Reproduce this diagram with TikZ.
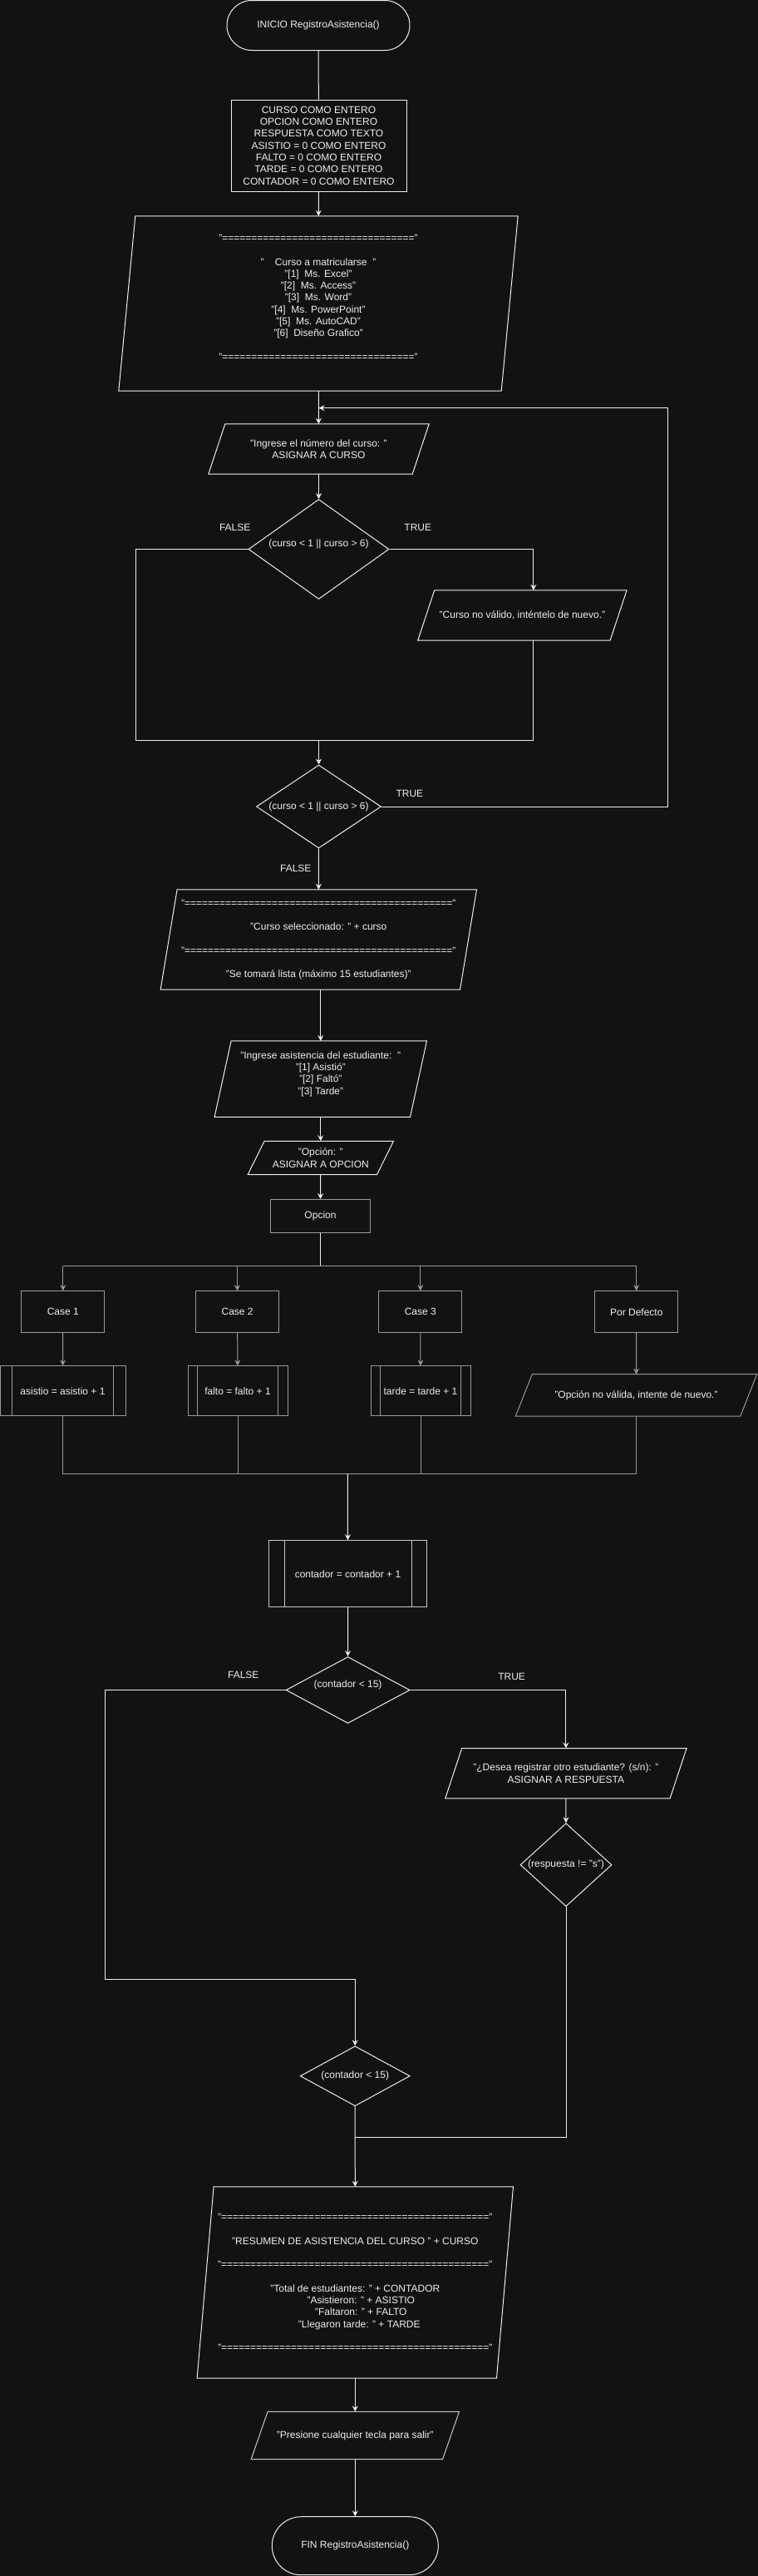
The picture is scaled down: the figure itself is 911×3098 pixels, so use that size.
\documentclass[tikz,border=0pt]{standalone}
\usepackage{fontspec}
\setmainfont{Liberation Sans}
\usepackage{xcolor}
\usepackage{tikz}
\usetikzlibrary{shapes,arrows.meta,positioning}
\tikzset{>={Stealth[length=7pt,width=7pt,inset=2.5pt]}}

\definecolor{fondo}{HTML}{121212}
\definecolor{linea}{HTML}{EEEEEE}
\definecolor{gris}{HTML}{999999}
\definecolor{grisclaro}{HTML}{C8C8C8}

\def\diez{==========}
\newcommand{\sepcorto}{"\diez\diez\diez==="}
\newcommand{\seplargo}{"\diez\diez\diez\diez======"}

\begin{document}
\begin{tikzpicture}[x=1pt, y=-1pt,
                          every node/.style={text=linea, font=\fontsize{12}{14.3}\selectfont, align=center, inner sep=0pt},
                          con/.style={linea, line width=1pt},
                          flecha/.style={con, ->},
                          cong/.style={gris, line width=1pt},
                          flechag/.style={cong, ->},
                          term/.style={draw=linea, line width=1pt, rounded corners=#1, minimum height=2*#1},
                          caja/.style={draw=linea, line width=1pt, rectangle},
                          cajag/.style={draw=gris, line width=1pt, rectangle},
                          decision/.style={diamond, draw=linea, line width=1pt},
                          io/.style 2 args={rectangle, minimum width=#1, append after command={\pgfextra{\edef\ionode{\tikzlastnode}%
                              \draw[#2, line width=1pt] ([xshift=20]\ionode.north west) -- (\ionode.north east) -- ([xshift=-20]\ionode.south east) -- (\ionode.south west) -- cycle;}}},
                          proc/.style 2 args={draw=#2, line width=1pt, rectangle, minimum width=#1, append after command={\pgfextra{\edef\procnode{\tikzlastnode}%
                              \draw[#2, line width=1pt] ([xshift=#1/10]\procnode.north west) -- ([xshift=#1/10]\procnode.south west)
                                                        ([xshift=-#1/10]\procnode.north east) -- ([xshift=-#1/10]\procnode.south east);}}},
                         ]

\useasboundingbox (0,0) rectangle (911,3098);
\fill[fondo] (-6,-6) rectangle (917,3104);

% inicio y datos
\node[term=30, minimum width=220] (inicio) at (383,30.5) {INICIO RegistroAsistencia()};
\node[caja, minimum width=211, minimum height=110] (decl) at (383.5,175) {CURSO COMO ENTERO\\OPCION COMO ENTERO\\RESPUESTA COMO TEXTO\\ASISTIO = 0 COMO ENTERO\\FALTO = 0 COMO ENTERO\\TARDE = 0 COMO ENTERO\\CONTADOR = 0 COMO ENTERO};
\node[io={480}{linea}, minimum height=210] (menu) at (383,365) {\sepcorto\\ \mbox{}\\ "\ \ \ \ Curso a matricularse\ \ "\\ "[1]\ \ Ms. Excel"\\ "[2]\ \ Ms. Access"\\ "[3]\ \ Ms. Word"\\ "[4]\ \ Ms. PowerPoint"\\ "[5]\ \ Ms. AutoCAD"\\ "[6]\ \ Diseño Grafico"\\ \mbox{}\\ \sepcorto\\ \mbox{}};

% lectura del curso
\node[io={265}{linea}, minimum height=60] (ingcurso) at (383.5,540) {"Ingrese el número del curso: "\\ASIGNAR A CURSO};
\node[decision, minimum width=169, minimum height=120, aspect=1.41] (dec1) at (383.5,660.5) {(curso < 1 || curso > 6)\\ \mbox{}};
\node[io={251}{linea}, minimum height=60] (invalido) at (628.4,740) {"Curso no válido, inténtelo de nuevo."};
\node (falso1) at (282.7,634.7) {FALSE};
\node (verdad1) at (502.8,634.7) {TRUE};
\node[decision, minimum width=150, minimum height=100, aspect=1.5] (dec2) at (383.5,970) {(curso < 1 || curso > 6)};
\node (verdad2) at (492.9,954) {TRUE};
\node (falso2) at (355.8,1044) {FALSE};

\node[io={380}{linea}, minimum height=120] (selec) at (383.3,1130) {\seplargo\\ \mbox{}\\ "Curso seleccionado: " + curso\\ \mbox{}\\ \seplargo\\ \mbox{}\\ "Se tomará lista (máximo 15 estudiantes)"};
\node[io={255}{linea}, minimum height=91] (ingasis) at (385.8,1297.6) {"Ingrese asistencia del estudiante:\ \ "\\ "[1] Asistió"\\ "[2] Faltó"\\ "[3] Tarde"\\ \mbox{}};
\node[io={175}{linea}, minimum height=40] (opcin) at (385.8,1392.5) {"Opción: "\\ASIGNAR A OPCION};

% segun opcion
\node[cajag, minimum width=120, minimum height=40] (opcion) at (385.5,1462.5) {Opcion};
\node[cajag, minimum width=100, minimum height=50] (caso1) at (75.8,1577.7) {Case 1};
\node[cajag, minimum width=100, minimum height=50] (caso2) at (285.6,1577.7) {Case 2};
\node[cajag, minimum width=100, minimum height=50] (caso3) at (505.8,1577.7) {Case 3};
\node[cajag, minimum width=100, minimum height=50] (pordef) at (765.8,1577.7) {Por Defecto};
\node[proc={151}{gris}, minimum height=60] (suma1) at (75.5,1672.9) {asistio = asistio + 1};
\node[proc={120}{gris}, minimum height=60] (suma2) at (286,1672.9) {falto = falto + 1};
\node[proc={120}{gris}, minimum height=60] (suma3) at (506,1672.9) {tarde = tarde + 1};
\node[io={290}{gris}, minimum height=50] (pdmsg) at (765.5,1677.9) {"Opción no válida, intente de nuevo."};

\node[proc={190}{grisclaro}, minimum height=80] (contador) at (418.5,1892.7) {contador = contador + 1};
\node[decision, minimum width=149, minimum height=80, aspect=1.86] (dec3) at (418.6,2032.5) {(contador < 15)\\ \mbox{}};
\node (falso3) at (292.8,2014.3) {FALSE};
\node (verdad3) at (615.6,2016.7) {TRUE};
\node[io={290}{linea}, minimum height=60] (desea) at (680.9,2132.7) {"¿Desea registrar otro estudiante? (s/n): "\\ASIGNAR A RESPUESTA};
\node[decision, minimum width=110, minimum height=100, aspect=1.1] (dec5) at (681,2242.7) {(respuesta != "s")};
\node[decision, minimum width=132, minimum height=72, aspect=1.83] (dec4) at (427.2,2496.7) {(contador < 15)};

% resumen y fin
\node[io={380}{linea}, minimum height=230] (resumen) at (427.3,2745) {\seplargo\\ \mbox{}\\ "RESUMEN DE ASISTENCIA DEL CURSO " + CURSO\\ \mbox{}\\ \seplargo\\ \mbox{}\\ "Total de estudiantes: " + CONTADOR\\ \hspace*{14pt}"Asistieron: " + ASISTIO\\ \hspace*{14pt}"Faltaron: " + FALTO\\ \hspace*{10pt}"Llegaron tarde: " + TARDE\\ \mbox{}\\ \seplargo};
\node[io={250}{grisclaro}, minimum height=57] (presione) at (427.3,2929) {"Presione cualquier tecla para salir"};
\node[term=35, minimum width=200] (fin) at (427.3,3061.7) {FIN RegistroAsistencia()};

\coordinate (union0) at (383.5,490.7);
\coordinate (codo2) at (803,490.7);
\coordinate (codo1) at (163.5,890);
\coordinate (union1) at (383.5,890);
\coordinate (bus) at (385.5,1522.7);
\coordinate (union2) at (418.4,1772.7);
\coordinate (codo3) at (126.3,2380);
\coordinate (union3) at (427.2,2380);
\coordinate (union4) at (427.2,2570);

\draw[con] (inicio) -- (decl);
\draw[flecha] (decl) -- (menu);
\draw[flecha] (menu) -- (ingcurso);
\draw[flecha] (ingcurso) -- (dec1);
\draw[flecha] (dec1.east) -| ([xshift=13.5]invalido.north);
\draw[con] (dec1.west) -| (codo1) -- (union1);
\draw[con] ([xshift=13.5]invalido.south) |- (union1);
\draw[flecha] (union1) -- (dec2);
\draw[flecha] (dec2.east) -| (codo2) -- (union0);
\draw[flecha] (dec2) -- (selec);
\draw[flecha] (selec.south -| ingasis.north) -- (ingasis);
\draw[flecha] (ingasis) -- (opcin);
\draw[flecha] (opcin) -- (opcion);

\draw[con] (opcion) -- (bus);
\draw[cong] (bus -| caso1) -- (bus -| pordef);
\draw[flechag] (bus -| caso1) -- (caso1);
\draw[flechag] (bus -| caso2) -- (caso2);
\draw[flechag] (bus -| caso3) -- (caso3);
\draw[flechag] (bus -| pordef) -- (pordef);
\draw[flechag] (caso1) -- (suma1);
\draw[flechag] (caso2) -- (suma2);
\draw[flechag] (caso3) -- (suma3);
\draw[flechag] (pordef) -- (pdmsg);
\draw[cong] (suma1) |- (union2) -| (pdmsg);
\draw[cong] (suma2) -- (suma2 |- union2);
\draw[cong] (suma3) -- (suma3 |- union2);
\draw[flecha] (union2) -- (contador);

\draw[flecha] (contador) -- (dec3);
\draw[flecha] (dec3.east) -| (desea);
\draw[flecha] (desea) -- (dec5);
\draw[con] (dec3.west) -| (codo3) -- (union3);
\draw[flecha] (union3) -- (dec4);
\draw[con] (dec5) |- (union4);
\draw[flecha] (dec4) -- (resumen);
\draw[flecha] (resumen) -- (presione);
\draw[flecha] (presione) -- (fin);

\end{tikzpicture}
\end{document}
